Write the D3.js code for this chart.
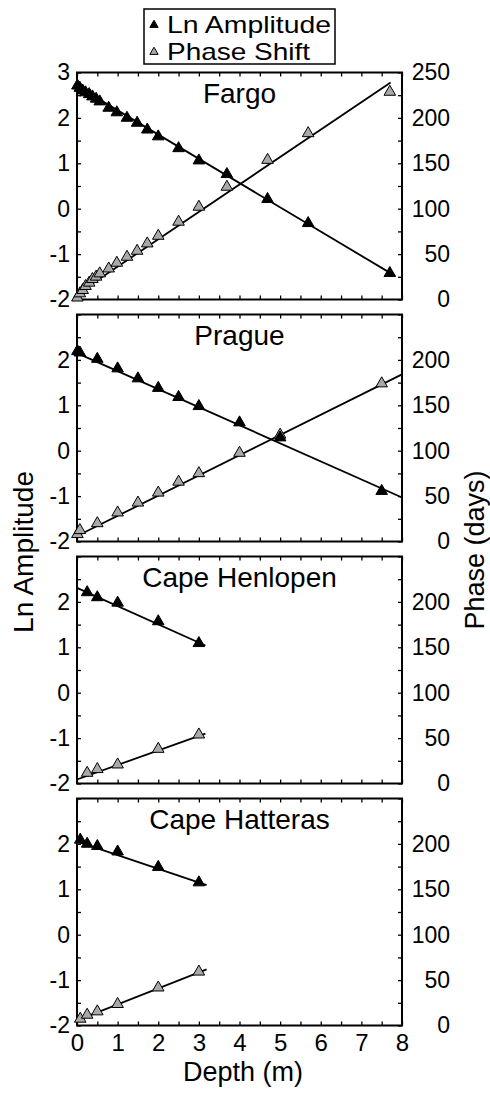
<!DOCTYPE html>
<html>
<head>
<meta charset="utf-8">
<script src="https://cdn.jsdelivr.net/npm/d3@7"></script>
<style>
  body { margin: 0; background: #fff; }
  svg { display: block; font-family: "Liberation Sans", Arial, sans-serif; }
</style>
</head>
<body>
<div id="chart"></div>
<script>
// Depths (m) and readings for each site
const depthFargo = [0.01, 0.07, 0.14, 0.21, 0.30, 0.38, 0.47, 0.56, 0.78, 0.98, 1.23, 1.48, 1.73, 2.0, 2.5, 3.0, 3.69, 4.69, 5.69, 7.7];
const lnFargo = [2.71, 2.66, 2.60, 2.56, 2.52, 2.47, 2.42, 2.36, 2.22, 2.12, 2.0, 1.89, 1.74, 1.59, 1.33, 1.06, 0.76, 0.21, -0.32, -1.42];
const phaseFargo = [2, 6.6, 10.3, 14.7, 18.4, 22.4, 25, 28.6, 34, 40.3, 46.9, 53.5, 61.6, 70, 85.5, 102, 124, 153.6, 183, 228.6];

const depthPrague = [0.01, 0.07, 0.5, 1.0, 1.5, 2.0, 2.5, 3.0, 4.0, 5.0, 7.5];
const lnPrague = [2.19, 2.16, 2.02, 1.81, 1.59, 1.38, 1.18, 0.98, 0.62, 0.29, -0.89];
const phasePrague = [8, 12.4, 20, 31.8, 42.7, 53.7, 65.7, 75.1, 97.5, 117.5, 174];

const depthHenlopen = [0.25, 0.5, 1, 2, 3];
const lnHenlopen = [2.21, 2.10, 1.98, 1.57, 1.09];
const phaseHenlopen = [11.6, 15.7, 20.8, 38, 53.8];

const depthHatteras = [0.08, 0.25, 0.5, 1, 2, 3];
const lnHatteras = [2.09, 2.0, 1.95, 1.83, 1.49, 1.15];
const phaseHatteras = [7.3, 11.7, 15.4, 23.5, 41.7, 59.2];

// fitted lines, [depth, value] end points
const fitLnFargo = [[0, 2.70], [7.83, -1.48]];
const fitPhaseFargo = [[0, 6], [7.72, 239]];
const fitLnPrague = [[0, 2.15], [8, -1.03]];
const fitPhasePrague = [[0, 6], [8, 184]];
const fitLnHenlopen = [[0, 2.31], [3.16, 1.04]];
const fitPhaseHenlopen = [[0, 4.4], [3.16, 55]];
const fitLnHatteras = [[0.05, 2.04], [3.19, 1.09]];
const fitPhaseHatteras = [[0.05, 6.5], [3.19, 61.8]];

const siteNames = ["Fargo", "Prague", "Cape Henlopen", "Cape Hatteras"];
const xTicks = [0, 1, 2, 3, 4, 5, 6, 7, 8];
const lnTicks = [-2, -1, 0, 1, 2, 3];
const phaseTicks = [0, 50, 100, 150, 200, 250];

const sites = [
  { name: siteNames[0], depth: depthFargo, ln: lnFargo, phase: phaseFargo, fitLn: fitLnFargo, fitPhase: fitPhaseFargo },
  { name: siteNames[1], depth: depthPrague, ln: lnPrague, phase: phasePrague, fitLn: fitLnPrague, fitPhase: fitPhasePrague },
  { name: siteNames[2], depth: depthHenlopen, ln: lnHenlopen, phase: phaseHenlopen, fitLn: fitLnHenlopen, fitPhase: fitPhaseHenlopen },
  { name: siteNames[3], depth: depthHatteras, ln: lnHatteras, phase: phaseHatteras, fitLn: fitLnHatteras, fitPhase: fitPhaseHatteras }
];

const W = 490, H = 1096;
const left = 77, right = 402;
const panelH = 227, panelStep = 242, firstTop = 72.5;
const gray = "#a9a9a9";

const svg = d3.select("#chart").append("svg")
  .attr("width", W)
  .attr("height", H);

const x = d3.scaleLinear().domain([0, 8]).range([left, right]);
const tri = d3.symbol().type(d3.symbolTriangle).size(58);
const triSmall = d3.symbol().type(d3.symbolTriangle).size(30);

// half-steps for minor ticks
const xMinor = d3.range(0, 8.01, 0.5);
const lnMinor = d3.range(-2, 3.01, 0.5);
const phaseMinor = d3.range(0, 250.1, 25);

sites.forEach((site, i) => {
  const top = firstTop + i * panelStep;
  const bottom = top + panelH;
  const yLn = d3.scaleLinear().domain([-2, 3]).range([bottom, top]);
  const yPh = d3.scaleLinear().domain([0, 250]).range([bottom, top]);
  const g = svg.append("g");

  // left axis
  const showTop = i === 0;
  g.append("g")
    .attr("class", "axis")
    .attr("transform", `translate(${left},0)`)
    .call(d3.axisLeft(yLn).tickValues(lnMinor).tickSize(-4).tickPadding(7)
      .tickFormat(d => (Number.isInteger(d) && lnTicks.includes(d) && (showTop || d < 3)) ? String(d) : ""));

  // right axis
  g.append("g")
    .attr("class", "axis right")
    .attr("transform", `translate(${right},0)`)
    .call(d3.axisRight(yPh).tickValues(phaseMinor).tickSize(-4).tickPadding(10)
      .tickFormat(d => (phaseTicks.includes(d) && (showTop || d < 250)) ? String(d) : ""));
  g.selectAll(".right text").attr("text-anchor", "end").attr("x", 48);

  // top and bottom axes
  g.append("g")
    .attr("class", "axis")
    .attr("transform", `translate(0,${top})`)
    .call(d3.axisTop(x).tickValues(xMinor).tickSize(-4).tickFormat(""));
  g.append("g")
    .attr("class", "axis xbottom")
    .attr("transform", `translate(0,${bottom})`)
    .call(d3.axisBottom(x).tickValues(xMinor).tickSize(-4).tickPadding(8)
      .tickFormat(d => (i === 3 && xTicks.includes(d)) ? String(d) : ""));

  g.selectAll(".axis .domain").remove();
  g.selectAll(".axis line").attr("stroke", "#000").attr("stroke-width", 1.3);
  g.selectAll(".axis text").attr("fill", "#000").style("font-size", "23px");
  g.selectAll(".xbottom text").style("font-size", "24px");

  // frame
  g.append("rect")
    .attr("x", left).attr("y", top)
    .attr("width", right - left).attr("height", panelH)
    .attr("fill", "none").attr("stroke", "#000").attr("stroke-width", 2);

  // fit lines
  const lnLine = d3.line().x(d => x(d[0])).y(d => yLn(d[1]));
  const phLine = d3.line().x(d => x(d[0])).y(d => yPh(d[1]));
  g.append("path").attr("d", lnLine(site.fitLn))
    .attr("fill", "none").attr("stroke", "#000").attr("stroke-width", 1.8);
  g.append("path").attr("d", phLine(site.fitPhase))
    .attr("fill", "none").attr("stroke", "#000").attr("stroke-width", 1.8);

  // markers
  g.selectAll(".ph")
    .data(site.depth.map((d, k) => [d, site.phase[k]]))
    .enter().append("path")
    .attr("class", "ph")
    .attr("d", tri)
    .attr("transform", d => `translate(${x(d[0])},${yPh(d[1])})`)
    .attr("fill", gray).attr("stroke", "#000").attr("stroke-width", 1);
  g.selectAll(".ln")
    .data(site.depth.map((d, k) => [d, site.ln[k]]))
    .enter().append("path")
    .attr("class", "ln")
    .attr("d", tri)
    .attr("transform", d => `translate(${x(d[0])},${yLn(d[1])})`)
    .attr("fill", "#000").attr("stroke", "#000").attr("stroke-width", 1);

  // site title
  g.append("text")
    .attr("x", (left + right) / 2)
    .attr("y", top + 30)
    .attr("text-anchor", "middle")
    .style("font-size", "28px")
    .text(site.name);
});

// axis titles
svg.append("text")
  .attr("transform", "translate(33,552) rotate(-90)")
  .attr("text-anchor", "middle")
  .style("font-size", "28px")
  .text("Ln Amplitude");
svg.append("text")
  .attr("transform", "translate(484,550) rotate(-90)")
  .attr("text-anchor", "middle")
  .style("font-size", "27px")
  .text("Phase (days)");
svg.append("text")
  .attr("x", 243)
  .attr("y", 1081)
  .attr("text-anchor", "middle")
  .style("font-size", "27px")
  .text("Depth (m)");

// legend
const legend = svg.append("g");
legend.append("rect")
  .attr("x", 144).attr("y", 9).attr("width", 191).attr("height", 55)
  .attr("fill", "#fff").attr("stroke", "#000").attr("stroke-width", 1.5);
const legendItems = [
  { label: "Ln Amplitude", fill: "#000", len: 164 },
  { label: "Phase Shift", fill: gray, len: 143 }
];
legendItems.forEach((item, k) => {
  const yb = 33 + k * 27;
  legend.append("path")
    .attr("d", triSmall)
    .attr("transform", `translate(154,${yb - 8})`)
    .attr("fill", item.fill).attr("stroke", "#000").attr("stroke-width", 1);
  legend.append("text")
    .attr("x", 167).attr("y", yb)
    .attr("textLength", item.len)
    .attr("lengthAdjust", "spacingAndGlyphs")
    .style("font-size", "24px")
    .text(item.label);
});
</script>
</body>
</html>
